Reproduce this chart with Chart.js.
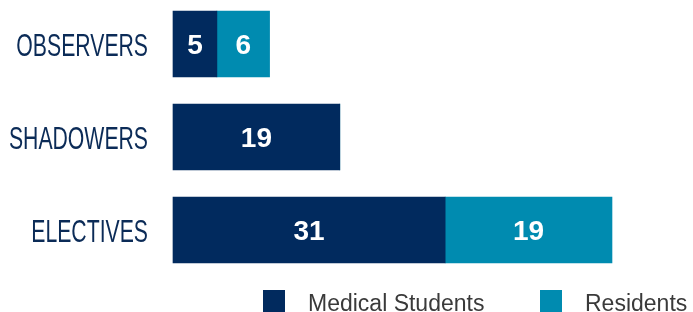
<!DOCTYPE html>
<html>
<head>
<meta charset="utf-8">
<script src="https://cdn.jsdelivr.net/npm/chart.js@4/dist/chart.umd.min.js"></script>
<style>
  body { margin: 0; background: #fff; }
  #wrap { position: relative; width: 693px; height: 312px; overflow: hidden; }
  #legend { position: absolute; top: 290px; left: 0; width: 693px; height: 22px; }
  .item { position: absolute; top: 0; display: flex; height: 22px;
          font-family: 'Liberation Sans', Arial, sans-serif; font-size: 23px; color: #3a3a3a; }
  .box { width: 22px; height: 22px; margin-right: 23px; }
  .item span { display: block; line-height: 22px; position: relative; top: 2px; white-space: nowrap; }
</style>
</head>
<body>
<div id="wrap">
  <canvas id="chart" width="693" height="312"></canvas>
  <div id="legend"></div>
</div>
<script>
// datos de la grafica
var categorias = ['OBSERVERS', 'SHADOWERS', 'ELECTIVES'];
var medicalStudents = [5, 19, 31];
var residents = [6, 0, 19];
var nombresSeries = ['Medical Students', 'Residents'];

var colorNavy = '#012a5e';
var colorTeal = '#008bb0';

// etiquetas blancas dentro de las barras
var etiquetasBarras = {
  id: 'etiquetasBarras',
  afterDatasetsDraw: function(chart) {
    var ctx = chart.ctx;
    var size = 28;
    ctx.save();
    ctx.fillStyle = '#fff';
    ctx.font = 'bold ' + size + 'px "Liberation Sans", Arial, sans-serif';
    ctx.textAlign = 'center';
    ctx.textBaseline = 'alphabetic';
    chart.data.datasets.forEach(function(ds, i) {
      var meta = chart.getDatasetMeta(i);
      meta.data.forEach(function(bar, j) {
        var v = ds.data[j];
        if (!v) return;
        ctx.fillText(v, (bar.x + bar.base) / 2, bar.y + size * 0.358);
      });
    });
    ctx.restore();
  }
};

// nombres de categoria, letra condensada
var etiquetasEje = {
  id: 'etiquetasEje',
  afterDraw: function(chart) {
    var ctx = chart.ctx;
    var esc = chart.scales.y;
    var size = 32;
    ctx.save();
    ctx.fillStyle = '#0b2b57';
    ctx.font = size + 'px "Liberation Sans", Arial, sans-serif';
    ctx.textAlign = 'right';
    ctx.textBaseline = 'alphabetic';
    chart.data.labels.forEach(function(lab, i) {
      var y = esc.getPixelForTick(i);
      ctx.save();
      ctx.translate(chart.chartArea.left - 25, y + 1 + size * 0.358);
      ctx.scale(0.663, 1);
      ctx.fillText(lab, 0, 0);
      ctx.restore();
    });
    ctx.restore();
  }
};

var ctx = document.getElementById('chart').getContext('2d');
var grafica = new Chart(ctx, {
  type: 'bar',
  data: {
    labels: categorias,
    datasets: [
      { label: nombresSeries[0], data: medicalStudents, backgroundColor: colorNavy, barThickness: 66, clip: false },
      { label: nombresSeries[1], data: residents, backgroundColor: colorTeal, barThickness: 66, clip: false }
    ]
  },
  options: {
    indexAxis: 'y',
    responsive: false,
    animation: false,
    devicePixelRatio: 1,
    layout: { padding: { top: 44, bottom: 82, left: 0, right: 2 } },
    plugins: { legend: { display: false }, tooltip: { enabled: false } },
    scales: {
      x: { stacked: true, display: false, min: 0, max: 59 },
      y: {
        stacked: true,
        offset: false,
        grid: { display: false, drawTicks: false },
        border: { display: false },
        ticks: { display: false },
        afterFit: function(scale) { scale.width = 173; }
      }
    }
  },
  plugins: [etiquetasBarras, etiquetasEje]
});

// leyenda
var posLeyenda = [263, 540];
var coloresLeyenda = [colorNavy, colorTeal];
var leg = document.getElementById('legend');
nombresSeries.forEach(function(n, i) {
  var item = document.createElement('div');
  item.className = 'item';
  item.style.left = posLeyenda[i] + 'px';
  item.innerHTML = '<div class="box" style="background:' + coloresLeyenda[i] + '"></div><span>' + n + '</span>';
  leg.appendChild(item);
});
</script>
</body>
</html>
